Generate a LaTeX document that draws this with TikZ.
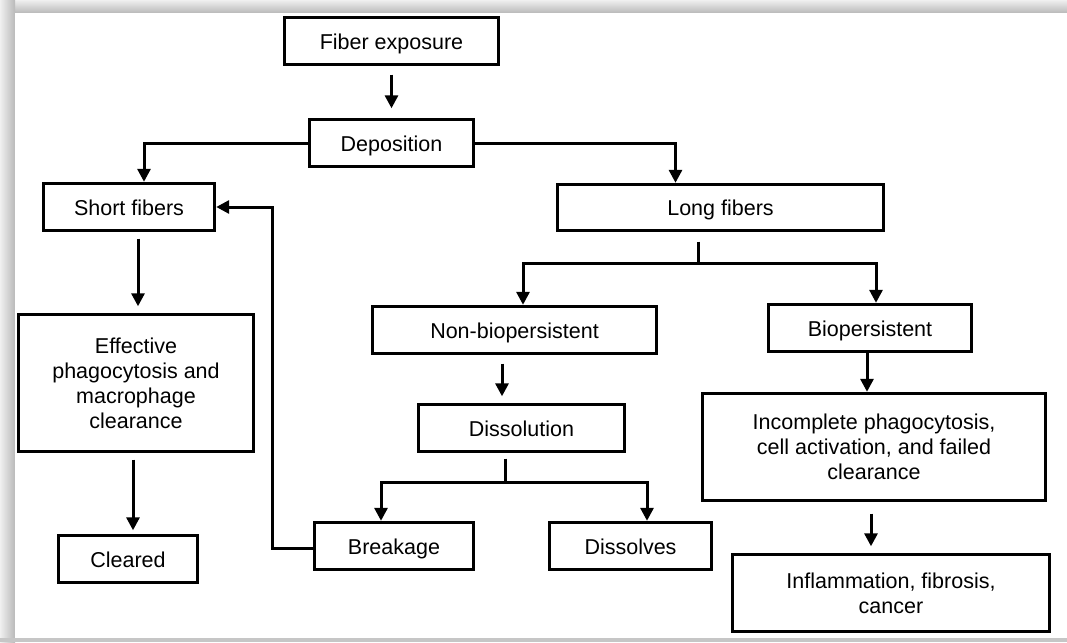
\documentclass[tikz,border=0pt]{standalone}
\usepackage{fontspec}
\setmainfont{Liberation Sans}
\usepackage{tikz}
\usetikzlibrary{arrows.meta}

\begin{document}
\begin{tikzpicture}[line cap=butt,line join=miter,>={Triangle[length=13pt,width=13pt]},x=1pt,y=-1pt,
  fbox/.style={draw,line width=3.4pt,align=center,inner sep=0pt,font=\fontsize{21.5}{25}\selectfont},
  sbox/.style={fbox,text height=17pt,text depth=1pt},
  link/.style={line width=3pt}]
\useasboundingbox (0,0) rectangle (1067,642);
% frame with shadow
\fill[gray!25] (0,0) rectangle (1067,642);
\shade[top color=gray!12,bottom color=gray!55] (0,0) rectangle (1067,13);
\shade[left color=gray!12,right color=gray!55] (0,0) rectangle (15,642);
\fill[gray!45] (0,638) rectangle (1067,642);
\fill[white] (15,13) rectangle (1067,638);
%\draw[red] (0,0) grid[step=50] (1067,642);
\node[sbox,minimum width=214pt,minimum height=47pt] (expo) at (391.5,41) {Fiber exposure};
\node[sbox,minimum width=164pt,minimum height=47pt] (depo) at (391.5,143) {Deposition};
\node[sbox,minimum width=171pt,minimum height=47pt] (short) at (129,207) {Short fibers};
\node[sbox,minimum width=326pt,minimum height=46pt] (long) at (720.5,207.5) {Long fibers};
\node[fbox,minimum width=235pt,minimum height=137pt] (effect) at (136,383) {Effective\\phagocytosis and\\macrophage\\clearance};
\node[sbox,minimum width=139pt,minimum height=47pt] (cleared) at (128,559) {Cleared};
\node[sbox,minimum width=284pt,minimum height=47pt] (nonbio) at (514.5,330) {Non-biopersistent};
\node[sbox,minimum width=203pt,minimum height=47pt] (biop) at (870,328) {Biopersistent};
\node[sbox,minimum width=206pt,minimum height=47pt] (dissol) at (521.5,428) {Dissolution};
\node[sbox,minimum width=159pt,minimum height=47pt] (break) at (394,546) {Breakage};
\node[sbox,minimum width=162pt,minimum height=47pt] (dissolves) at (630.5,546) {Dissolves};
\node[fbox,minimum width=343pt,minimum height=107pt] (incomp) at (874,447) {Incomplete phagocytosis,\\cell activation, and failed\\clearance};
\node[fbox,minimum width=317pt,minimum height=77pt] (inflam) at (891,593) {Inflammation, fibrosis,\\cancer};
\coordinate (lsplit) at (698,263);
\coordinate (dsplit) at (505,482);
% arrows
\draw[link,->,shorten <=8.5pt,shorten >=9.5pt] (expo.south) -- (depo.north);
\draw[link,->] (depo.west) -| ([xshift=15pt]short.north);
\draw[link,->] (depo.east) -| ([xshift=-45pt]long.north);
\draw[link,->,shorten <=6.5pt,shorten >=6.5pt] ([xshift=9pt]short.south) -- ([xshift=2pt]effect.north);
\draw[link,->,shorten <=6.5pt,shorten >=3.5pt] ([xshift=-3pt]effect.south) -- ([xshift=5pt]cleared.north);
\draw[link,->] ([yshift=-2pt]break.west) -- ++(-40,0) |- (short.east);
\draw[link,shorten <=9.5pt] ([xshift=-22.5pt]long.south) -- (lsplit);
\draw[link,->] (lsplit) -| ([xshift=8.5pt]nonbio.north);
\draw[link,->] (lsplit) -| ([xshift=6pt]biop.north);
\draw[link,->,shorten <=8.5pt,shorten >=6.5pt] ([xshift=-12.5pt]nonbio.south) -- ([xshift=-19.5pt]dissol.north);
\draw[link,shorten <=5.5pt] ([xshift=-16.5pt]dissol.south) -- (dsplit);
\draw[link,->] (dsplit) -| ([xshift=-13pt]break.north);
\draw[link,->] (dsplit) -| ([xshift=16.5pt]dissolves.north);
\draw[link,->] ([xshift=-3pt]biop.south) -- ([xshift=-7pt]incomp.north);
\draw[link,->,shorten <=11.5pt,shorten >=6.5pt] ([xshift=-3pt]incomp.south) -- ([xshift=-20pt]inflam.north);
\end{tikzpicture}
\end{document}
